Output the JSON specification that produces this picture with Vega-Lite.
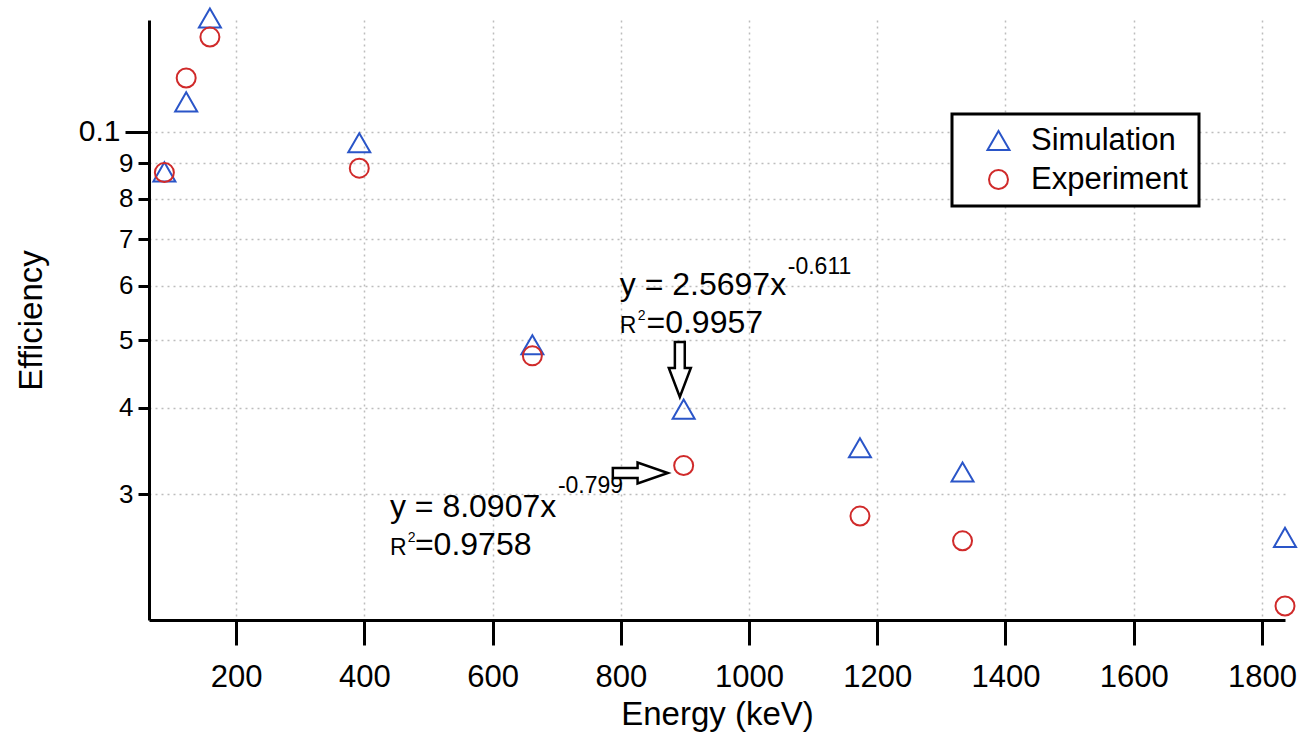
{
  "$schema": "https://vega.github.io/schema/vega-lite/v6.json",
  "width": 1136,
  "height": 600,
  "autosize": {"type": "none"},
  "padding": {"left": 149, "top": 20, "right": 31, "bottom": 125},
  "background": "white",
  "config": {
    "view": {"stroke": null},
    "font": "Liberation Sans",
    "legend": {"strokeWidth": 3},
    "axis": {
      "domainColor": "black",
      "domainWidth": 3,
      "tickColor": "black",
      "tickWidth": 3,
      "labelColor": "black",
      "titleColor": "black",
      "titleFontWeight": "normal",
      "titleFontSize": 33,
      "gridColor": "#bdbdbd",
      "gridDash": [2, 4],
      "gridWidth": 1.5
    }
  },
  "layer": [
    {
      "data": {
        "values": [
          {"energy": 88, "eff": 0.0875, "series": "Simulation"},
          {"energy": 122, "eff": 0.1104, "series": "Simulation"},
          {"energy": 159, "eff": 0.1459, "series": "Simulation"},
          {"energy": 392, "eff": 0.0964, "series": "Simulation"},
          {"energy": 662, "eff": 0.0493, "series": "Simulation"},
          {"energy": 898, "eff": 0.0398, "series": "Simulation"},
          {"energy": 1173, "eff": 0.035, "series": "Simulation"},
          {"energy": 1333, "eff": 0.0323, "series": "Simulation"},
          {"energy": 1836, "eff": 0.026, "series": "Simulation"},
          {"energy": 88, "eff": 0.0873, "series": "Experiment"},
          {"energy": 122, "eff": 0.1195, "series": "Experiment"},
          {"energy": 159, "eff": 0.1369, "series": "Experiment"},
          {"energy": 392, "eff": 0.0886, "series": "Experiment"},
          {"energy": 662, "eff": 0.0475, "series": "Experiment"},
          {"energy": 898, "eff": 0.033, "series": "Experiment"},
          {"energy": 1173, "eff": 0.0279, "series": "Experiment"},
          {"energy": 1333, "eff": 0.0257, "series": "Experiment"},
          {"energy": 1836, "eff": 0.0207, "series": "Experiment"}
        ]
      },
      "mark": {"type": "point", "filled": false, "strokeWidth": 2, "opacity": 1},
      "encoding": {
        "x": {
          "field": "energy",
          "type": "quantitative",
          "scale": {"domain": [64, 1836], "nice": false, "zero": false},
          "axis": {
            "title": "Energy (keV)",
            "values": [200, 400, 600, 800, 1000, 1200, 1400, 1600, 1800],
            "format": "d",
            "tickSize": 25,
            "labelFontSize": 31,
            "labelPadding": 17,
            "titlePadding": 6,
            "grid": true
          }
        },
        "y": {
          "field": "eff",
          "type": "quantitative",
          "scale": {"type": "log", "domain": [0.01976, 0.1449], "nice": false, "zero": false},
          "axis": {
            "title": "Efficiency",
            "values": [0.03, 0.04, 0.05, 0.06, 0.07, 0.08, 0.09, 0.1],
            "labelExpr": "datum.value > 0.095 ? '0.1\u00a0\u00a0' : format(datum.value * 100, '.0f')",
            "labelFontSize": {"condition": {"test": "datum.value > 0.095", "value": 30}, "value": 26},
            "tickSize": {"condition": {"test": "datum.value > 0.095", "value": 24}, "value": 11},
            "labelPadding": 5,
            "titlePadding": 30,
            "grid": true
          }
        },
        "color": {
          "field": "series",
          "type": "nominal",
          "scale": {"domain": ["Simulation", "Experiment"], "range": ["#2a55c8", "#d02a2a"]},
          "legend": {
            "title": null,
            "orient": "none",
            "legendX": 803,
            "legendY": 94,
            "labelFontSize": 31,
            "labelColor": "black",
            "labelOffset": 17,
            "padding": 11,
            "symbolOffset": 20,
            "rowPadding": 7,
            "symbolStrokeWidth": 2,
            "strokeColor": "black",
            "fillColor": "white",
            "encode": {"legend": {"update": {"strokeWidth": {"value": 3}, "stroke": {"value": "black"}}}}
          }
        },
        "shape": {
          "field": "series",
          "type": "nominal",
          "scale": {"domain": ["Simulation", "Experiment"], "range": ["triangle-up", "circle"]}
        },
        "size": {
          "field": "series",
          "type": "nominal",
          "scale": {"domain": ["Simulation", "Experiment"], "range": [484, 361]}
        }
      }
    },
    {
      "data": {
        "values": [
          {"energy": 798.4, "eff": 0.05813, "label": "y = 2.5697x"},
          {"energy": 840.0, "eff": 0.05125, "label": "=0.9957"},
          {"energy": 439.8, "eff": 0.02782, "label": "y = 8.0907x"},
          {"energy": 478.8, "eff": 0.02453, "label": "=0.9758"}
        ]
      },
      "mark": {"type": "text", "fontSize": 32, "align": "left", "baseline": "alphabetic", "color": "black"},
      "encoding": {
        "x": {"field": "energy", "type": "quantitative"},
        "y": {"field": "eff", "type": "quantitative"},
        "text": {"field": "label"}
      }
    },
    {
      "data": {
        "values": [
          {"energy": 1060.4, "eff": 0.06233, "label": "-0.611"},
          {"energy": 701.8, "eff": 0.03013, "label": "-0.799"}
        ]
      },
      "mark": {"type": "text", "fontSize": 23, "align": "left", "baseline": "alphabetic", "color": "black"},
      "encoding": {
        "x": {"field": "energy", "type": "quantitative"},
        "y": {"field": "eff", "type": "quantitative"},
        "text": {"field": "label"}
      }
    },
    {
      "data": {
        "values": [
          {"energy": 798.4, "eff": 0.05125, "label": "R"},
          {"energy": 439.8, "eff": 0.02453, "label": "R"}
        ]
      },
      "mark": {"type": "text", "fontSize": 23, "align": "left", "baseline": "alphabetic", "color": "black"},
      "encoding": {
        "x": {"field": "energy", "type": "quantitative"},
        "y": {"field": "eff", "type": "quantitative"},
        "text": {"field": "label"}
      }
    },
    {
      "data": {
        "values": [
          {"energy": 826.5, "eff": 0.05353, "label": "2"},
          {"energy": 467.8, "eff": 0.02561, "label": "2"}
        ]
      },
      "mark": {"type": "text", "fontSize": 14, "align": "left", "baseline": "alphabetic", "color": "black"},
      "encoding": {
        "x": {"field": "energy", "type": "quantitative"},
        "y": {"field": "eff", "type": "quantitative"},
        "text": {"field": "label"}
      }
    },
    {
      "data": {"values": [{"energy": 892, "eff": 0.04541}]},
      "mark": {
        "type": "point",
        "shape": "M-0.18,-1L0.18,-1L0.18,-0.05L0.4,-0.05L0,1L-0.4,-0.05L-0.18,-0.05Z",
        "size": 3025,
        "filled": true,
        "fill": "white",
        "stroke": "black",
        "strokeWidth": 2.5,
        "opacity": 1
      },
      "encoding": {
        "x": {"field": "energy", "type": "quantitative"},
        "y": {"field": "eff", "type": "quantitative"}
      }
    },
    {
      "data": {"values": [{"energy": 830.4, "eff": 0.0322}]},
      "mark": {
        "type": "point",
        "shape": "M-1,-0.18L-0.1,-0.18L-0.1,-0.38L1,0L-0.1,0.38L-0.1,0.18L-1,0.18Z",
        "size": 3025,
        "filled": true,
        "fill": "white",
        "stroke": "black",
        "strokeWidth": 2.5,
        "opacity": 1
      },
      "encoding": {
        "x": {"field": "energy", "type": "quantitative"},
        "y": {"field": "eff", "type": "quantitative"}
      }
    }
  ]
}
